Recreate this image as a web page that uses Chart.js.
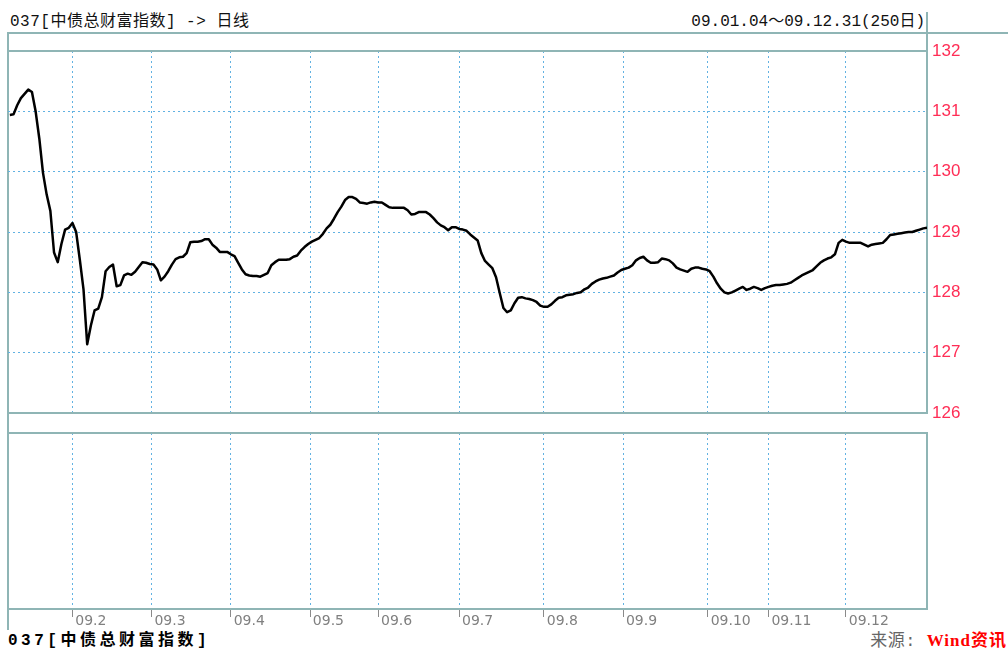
<!DOCTYPE html>
<html><head><meta charset="utf-8">
<script src="https://cdn.jsdelivr.net/npm/chart.js@4"></script>
<style>
html,body{margin:0;padding:0;background:#fff;width:1008px;height:651px;overflow:hidden;position:relative}
.t{position:absolute;white-space:nowrap;font-family:"Liberation Mono","Noto Sans CJK SC",monospace;line-height:16px}
.ln{position:absolute;background:#8fb5b5}
canvas{position:absolute;left:0}
</style></head><body>
<div class="t" style="left:10px;top:14px;font-size:16px;letter-spacing:0.5px;color:#111">037[中债总财富指数] -&gt; 日线</div>
<div class="t" style="right:83px;top:14px;font-size:16px;color:#111">09.01.04～09.12.31(250日)</div>
<div class="t" style="left:8px;top:633px;font-size:16px;font-weight:bold;letter-spacing:3.5px;color:#000">037[中债总财富指数]</div>
<div class="t" style="right:1px;top:633px;font-size:17px;letter-spacing:0.5px"><span style="color:#666">来源: </span><span style="color:#f00;font-weight:bold;font-family:'Liberation Serif','Noto Sans CJK SC',serif;letter-spacing:1px">Wind资讯</span></div>
<div class="ln" style="left:7px;top:32px;width:1001px;height:2px"></div>
<div class="ln" style="left:7px;top:32px;width:2px;height:598px"></div>
<div class="ln" style="left:926px;top:12px;width:2px;height:40px"></div>
<canvas id="c1" width="1008" height="430" style="top:0;width:1008px;height:430px"></canvas>
<canvas id="c2" width="1008" height="226" style="top:425px;width:1008px;height:226px"></canvas>
<script>
// Daily index values, 250 trading days (2009-01-04 .. 2009-12-31)
const values = [
130.94,130.95,131.10,131.22,131.29,131.36,131.32,131.00,130.55,129.98,
129.62,129.35,128.66,128.50,128.80,129.04,129.07,129.15,129.00,128.54,
128.05,127.14,127.45,127.70,127.73,127.92,128.35,128.42,128.46,128.10,
128.12,128.28,128.31,128.29,128.34,128.42,128.50,128.49,128.47,128.46,
128.38,128.20,128.26,128.35,128.46,128.55,128.58,128.59,128.65,128.83,
128.84,128.84,128.85,128.88,128.88,128.79,128.74,128.67,128.67,128.67,
128.63,128.60,128.49,128.38,128.30,128.28,128.27,128.27,128.26,128.29,
128.32,128.45,128.50,128.54,128.54,128.54,128.55,128.59,128.61,128.69,
128.75,128.80,128.84,128.87,128.90,128.97,129.06,129.12,129.22,129.33,
129.42,129.53,129.58,129.58,129.55,129.49,129.48,129.47,129.49,129.50,
129.49,129.49,129.45,129.41,129.40,129.40,129.40,129.40,129.36,129.29,
129.30,129.33,129.33,129.33,129.29,129.23,129.16,129.11,129.08,129.03,
129.08,129.08,129.05,129.04,129.02,128.96,128.91,128.86,128.65,128.52,
128.46,128.40,128.25,127.99,127.74,127.67,127.70,127.82,127.91,127.92,
127.90,127.89,127.87,127.84,127.78,127.76,127.76,127.80,127.86,127.91,
127.92,127.95,127.96,127.97,127.99,128.00,128.05,128.08,128.14,128.18,
128.21,128.23,128.24,128.26,128.28,128.33,128.37,128.39,128.41,128.45,
128.53,128.57,128.59,128.53,128.49,128.49,128.50,128.56,128.55,128.53,
128.48,128.41,128.38,128.36,128.34,128.39,128.41,128.41,128.39,128.38,
128.35,128.26,128.15,128.06,128.00,127.98,128.00,128.03,128.06,128.09,
128.04,128.06,128.09,128.07,128.04,128.07,128.09,128.11,128.12,128.12,
128.13,128.14,128.16,128.20,128.24,128.28,128.31,128.34,128.37,128.43,
128.49,128.53,128.56,128.58,128.63,128.82,128.87,128.84,128.82,128.82,
128.82,128.82,128.79,128.76,128.79,128.80,128.81,128.82,128.88,128.95,
128.96,128.97,128.98,128.99,129.00,129.00,129.02,129.04,129.06,129.07
];
// Month boundaries (in trading-day index units) and their labels
const monthPos = [17, 38.5, 60, 81.5, 100, 122, 145, 166.5, 189.5, 206, 227];
const monthLabels = ['09.2','09.3','09.4','09.5','09.6','09.7','09.8','09.9','09.10','09.11','09.12'];
const yMin = 126, yMax = 132, yStep = 1;

const teal = '#8fb5b5';
const gridBlue = '#62b2e2';

function xAxis(showLabels){
  return {
    type:'linear', position:'bottom', min:-0.5, max:values.length-1,
    afterBuildTicks: s => { s.ticks = monthPos.map(v => ({value:v})); },
    grid:{ color:gridBlue, lineWidth:1, drawTicks:showLabels, tickLength:8, tickColor:'#8a8a8a', tickWidth:1, tickBorderDash:[] },
    border:{ display:true, color:teal, width:2, dash:[2,3] },
    ticks:{ display:showLabels, align:'start', padding:-3, color:'#808080', autoSkip:false, maxRotation:0,
      font:{family:'DejaVu Sans', size:14, lineHeight:1},
      callback:(v,i) => '\u2009' + monthLabels[i] },
    afterFit: s => { s.height = showLabels ? 42 : 0; }
  };
}
const topBorder = { type:'linear', position:'top', display:true, ticks:{display:false}, grid:{display:false},
  border:{display:true, color:teal, width:2}, afterFit: s => { s.height = 0; } };

new Chart(document.getElementById('c1'), {
  type:'line',
  data:{ datasets:[{ data: values.map((v,i) => ({x:i, y:v})), borderColor:'#000', borderWidth:2.5,
    pointRadius:0, tension:0, fill:false, borderJoinStyle:'round' }] },
  options:{
    responsive:false, animation:false, devicePixelRatio:1,
    layout:{ padding:{left:8, top:51, right:0, bottom:17} },
    plugins:{ legend:{display:false}, tooltip:{enabled:false} },
    scales:{
      x: xAxis(false),
      xTop: topBorder,
      y:{ position:'right', min:yMin, max:yMax,
        ticks:{ stepSize:yStep, color:'#ff2d55', padding:5, font:{family:'Liberation Sans', size:17} },
        grid:{ color:gridBlue, lineWidth:1, drawTicks:false },
        border:{ display:true, color:teal, width:2, dash:[2,3] },
        afterFit: s => { s.width = 81; } }
    }
  }
});

new Chart(document.getElementById('c2'), {
  type:'line',
  data:{ datasets:[] },
  options:{
    responsive:false, animation:false, devicePixelRatio:1,
    layout:{ padding:{left:8, top:8, right:0, bottom:0} },
    plugins:{ legend:{display:false}, tooltip:{enabled:false} },
    scales:{
      x: xAxis(true),
      xTop: topBorder,
      y:{ position:'right', min:0, max:1, ticks:{display:false}, grid:{display:false},
        border:{display:true, color:teal, width:2}, afterFit: s => { s.width = 81; } }
    }
  }
});
</script>
</body></html>
